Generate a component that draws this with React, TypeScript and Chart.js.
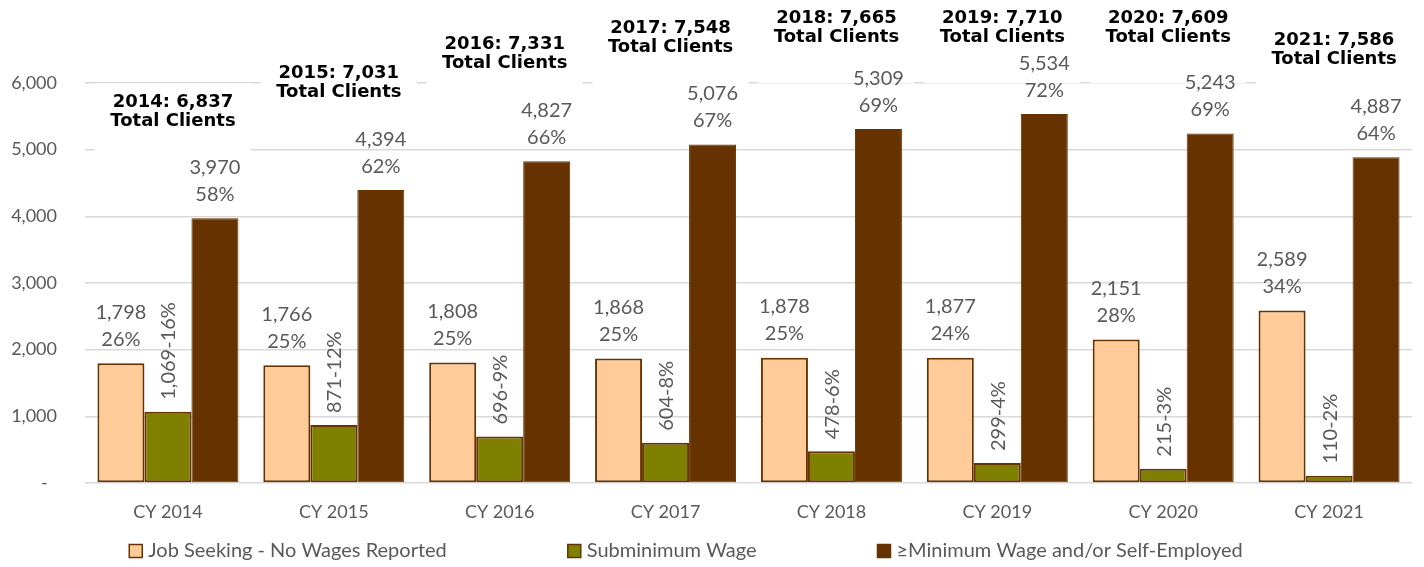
import React, { useEffect, useRef } from "react";
import { Chart, registerables } from "chart.js";

Chart.register(...registerables);

const categories = ["CY 2014", "CY 2015", "CY 2016", "CY 2017", "CY 2018", "CY 2019", "CY 2020", "CY 2021"];
const years = ["2014", "2015", "2016", "2017", "2018", "2019", "2020", "2021"];
const totalClients = [6837, 7031, 7331, 7548, 7665, 7710, 7609, 7586];

const seriesNames = ["Job Seeking - No Wages Reported", "Subminimum Wage", "\u2265Minimum Wage and/or Self-Employed"];

const jobSeeking = [1798, 1766, 1808, 1868, 1878, 1877, 2151, 2589];
const jobSeekingPct = [26, 25, 25, 25, 25, 24, 28, 34];
const subminimum = [1069, 871, 696, 604, 478, 299, 215, 110];
const subminimumPct = [16, 12, 9, 8, 6, 4, 3, 2];
const minimumWage = [3970, 4394, 4827, 5076, 5309, 5534, 5243, 4887];
const minimumWagePct = [58, 62, 66, 67, 69, 72, 69, 64];

const yTicks = [0, 1000, 2000, 3000, 4000, 5000, 6000];

const COLORS = ["#FFCC99", "#808000", "#663300"];
const BORDER = "#663300";
const TEXT = "#595959";
const LABEL_FONT = '20px Lato';
const TICK_FONT = { family: "Lato", size: 18 };

const fmt = (v: number) => v.toLocaleString("en-US");

const labelPlugin = {
  id: "customLabels",
  afterDatasetsDraw(chart: any) {
    const ctx = chart.ctx;
    const metaP = chart.getDatasetMeta(0);
    const metaG = chart.getDatasetMeta(1);
    const metaB = chart.getDatasetMeta(2);
    const xScale = chart.scales.x;
    ctx.save();
    // title boxes
    categories.forEach((_, i) => {
      const bar = metaB.data[i];
      const cx = xScale.getPixelForValue(i) + 5;
      const cy = Math.max(28, bar.y - 107);
      ctx.fillStyle = "#ffffff";
      ctx.fillRect(cx - 78, cy - 28, 156, 83);
      ctx.fillStyle = "#000000";
      ctx.font = 'bold 18px "DejaVu Sans"';
      ctx.textAlign = "center";
      ctx.textBaseline = "middle";
      ctx.fillText(`${years[i]}: ${fmt(totalClients[i])}`, cx, cy - 9.5);
      ctx.fillText("Total Clients", cx, cy + 9.5);
    });
    ctx.fillStyle = TEXT;
    ctx.font = LABEL_FONT;
    ctx.textAlign = "center";
    ctx.textBaseline = "middle";
    categories.forEach((_, i) => {
      const p = metaP.data[i];
      ctx.fillText(fmt(jobSeeking[i]), p.x, p.y - 51);
      ctx.fillText(`${jobSeekingPct[i]}%`, p.x, p.y - 24);
      const b = metaB.data[i];
      ctx.fillText(fmt(minimumWage[i]), b.x, b.y - 51);
      ctx.fillText(`${minimumWagePct[i]}%`, b.x, b.y - 24);
      const g = metaG.data[i];
      ctx.save();
      ctx.translate(g.x + 1, g.y - 12);
      ctx.rotate(-Math.PI / 2);
      ctx.textAlign = "left";
      ctx.fillText(`${fmt(subminimum[i])}-${subminimumPct[i]}%`, 0, 0);
      ctx.restore();
    });
    ctx.restore();
  },
  afterDraw(chart: any) {
    const ctx = chart.ctx;
    ctx.save();
    ctx.font = "20px Lato";
    const box = 13;
    const gapText = 6;
    const gap = 121;
    const widths = seriesNames.map((t) => box + gapText + ctx.measureText(t).width);
    const total = widths.reduce((a, b) => a + b, 0) + gap * (seriesNames.length - 1);
    let x = chart.width / 2 - total / 2 - 26;
    const y = chart.chartArea.bottom + 68;
    seriesNames.forEach((t, i) => {
      ctx.fillStyle = COLORS[i];
      ctx.fillRect(x, y - box / 2, box, box);
      ctx.strokeStyle = BORDER;
      ctx.lineWidth = 1.5;
      ctx.strokeRect(x, y - box / 2, box, box);
      ctx.fillStyle = TEXT;
      ctx.textAlign = "left";
      ctx.textBaseline = "middle";
      ctx.fillText(t, x + box + gapText, y);
      x += widths[i] + gap;
    });
    ctx.restore();
  },
};

export default function App() {
  const canvasRef = useRef<HTMLCanvasElement | null>(null);

  useEffect(() => {
    document.body.style.margin = "0";
    let chart: Chart | null = null;
    let cancelled = false;
    const build = () => {
      if (cancelled || !canvasRef.current) return;
      chart = new Chart(canvasRef.current, {
        type: "bar",
        data: {
          labels: categories,
          datasets: [
            { label: seriesNames[0], data: jobSeeking, backgroundColor: COLORS[0], borderColor: BORDER, borderWidth: 2, borderSkipped: false },
            { label: seriesNames[1], data: subminimum, backgroundColor: COLORS[1], borderColor: BORDER, borderWidth: 2, borderSkipped: false },
            { label: seriesNames[2], data: minimumWage, backgroundColor: COLORS[2], borderColor: BORDER, borderWidth: 1, borderSkipped: false },
          ],
        },
        options: {
          responsive: false,
          animation: false,
          layout: { padding: { top: 83, right: 12, left: 0, bottom: 0 } },
          datasets: { bar: { categoryPercentage: 0.85, barPercentage: 1 } },
          plugins: { legend: { display: false }, tooltip: { enabled: false } },
          scales: {
            x: {
              grid: { display: false, drawTicks: false },
              border: { display: false },
              ticks: { color: TEXT, font: TICK_FONT, padding: 18, maxRotation: 0 },
              afterFit: (s: any) => { s.height = 84; },
            },
            y: {
              min: 0,
              max: 6000,
              afterBuildTicks: (s: any) => { s.ticks = yTicks.map((v) => ({ value: v })); },
              grid: { color: "#D9D9D9", lineWidth: 1.5, drawTicks: false },
              border: { display: false },
              ticks: {
                color: TEXT,
                font: TICK_FONT,
                padding: 28,
                callback: (v: any) => (Number(v) === 0 ? "-  " : fmt(Number(v))),
              },
              afterFit: (s: any) => { s.width = 85; },
            },
          },
        },
        plugins: [labelPlugin],
      });
    };
    const fontsReady = (document as any).fonts
      ? Promise.all([
          (document as any).fonts.load("20px Lato"),
          (document as any).fonts.load('bold 18px "DejaVu Sans"'),
        ]).catch(() => null)
      : Promise.resolve(null);
    fontsReady.then(build);
    return () => {
      cancelled = true;
      if (chart) chart.destroy();
    };
  }, []);

  return (
    <div style={{ width: 1424, height: 567, position: "relative" }}>
      <canvas ref={canvasRef} width={1424} height={567} />
    </div>
  );
}
